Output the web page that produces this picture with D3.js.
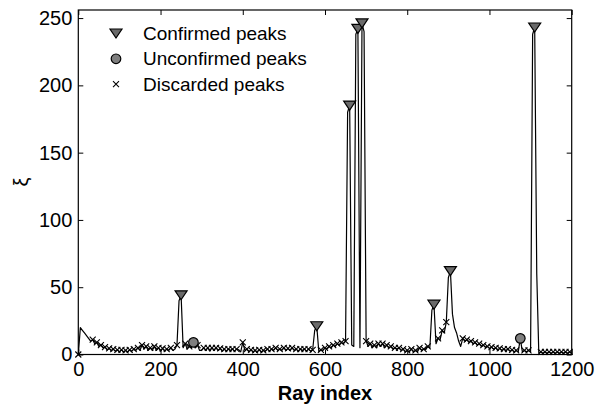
<!DOCTYPE html>
<html>
<head>
<meta charset="utf-8">
<script src="https://cdn.jsdelivr.net/npm/d3@7/dist/d3.min.js"></script>
<style>
  body { margin: 0; background: #fff; }
  svg { display: block; font-family: "Liberation Sans", Arial, Helvetica, sans-serif; }
  .tick text { font-size: 20px; fill: #000; }
  .tick line { stroke: #000; stroke-width: 1; }
</style>
</head>
<body>
<div class="chart"></div>
<script>
// xi value for every 5th ray (ray index = i * step)
const step = 5
const xi = [
  0, 20, 18, 16, 14, 12, 10, 11, 8, 9,
  6, 7, 5, 5.5, 3.5, 4.5, 3, 4, 2.5, 3.5,
  2, 3.5, 2, 3, 2, 3.5, 2.5, 4, 3, 5,
  3, 7, 4, 6, 3, 5, 3, 6, 3, 5,
  2.5, 4.5, 2.5, 4, 3, 5, 3, 4, 7, 40,
  44, 5, 8, 4, 6, 5, 9, 5, 7, 3,
  3, 5, 3, 5, 2.5, 5, 3, 5, 3, 4.5,
  2.5, 4, 2.5, 4, 3, 4, 2.5, 4, 3.5, 2,
  9, 3, 4, 2, 3.5, 2, 3, 2, 3.5, 2,
  3, 2.5, 4, 2.5, 4, 3, 5, 3, 4, 3,
  5, 3, 4.5, 3, 5, 3, 4, 2.5, 4, 3,
  4, 2.5, 4, 2.5, 3.5, 18, 21, 2, 3.5, 3,
  5, 4, 6, 5, 7, 6, 8, 7, 9, 8,
  10, 180, 185, 7, 6, 238, 242, 5, 246, 240,
  10, 6, 8, 5, 7, 5, 8, 6, 8, 5,
  7, 5, 6, 4, 5, 4, 5, 3, 4, 2,
  3, 2, 4, 2, 3, 2, 5, 3, 4, 3.5,
  6, 5, 33, 37, 8, 12, 11, 18, 16, 24,
  57, 62, 30, 20, 16, 10, 6, 12, 10, 11,
  9, 10, 8, 9, 7, 8, 6, 7, 5.5, 6,
  4.5, 5.5, 4, 5, 3.5, 4.5, 3, 4, 3, 4,
  2.5, 3.5, 2, 3, 2, 12, 2, 3, 2, 3,
  2, 238, 243, 60, 1, 2, 1, 2, 1, 2,
  1, 2, 1, 2, 1, 2, 1, 2, 1, 2,
  1
]

// ray indices of the detected peaks
const confirmedPeaks = [250, 580, 660, 680, 690, 865, 905, 1110]
const unconfirmedPeaks = [280, 1075]
const discardedPeaks = [0, 35, 45, 55, 65, 75, 85, 95, 105, 115, 125, 135, 145, 155, 165, 175, 185, 195,
  205, 215, 225, 240, 260, 270, 290, 305, 315, 325, 335, 345, 355, 365, 375, 385,
  400, 410, 420, 430, 440, 450, 460, 470, 480, 490, 500, 510, 520, 530, 540, 550, 560, 570,
  590, 600, 610, 620, 630, 640, 650, 700, 710, 720, 730, 740, 750, 760, 770, 780, 790,
  800, 810, 820, 830, 840, 850, 875, 885, 895, 935, 945, 955, 965, 975, 985, 995,
  1005, 1015, 1025, 1035, 1045, 1055, 1065, 1085, 1095, 1125, 1135, 1145, 1155, 1165, 1175, 1185, 1195]

const xTicks = [0, 200, 400, 600, 800, 1000, 1200]
const yTicks = [0, 50, 100, 150, 200, 250]
const legendLabels = ['Confirmed peaks', 'Unconfirmed peaks', 'Discarded peaks']

let width = 599
let height = 408
let plot = {left: 78.3, right: 571.7, top: 10, bottom: 354.5}

let svg = d3.select('.chart').append('svg')
.attr('width', width)
.attr('height', height)

let x = d3.scaleLinear().domain([0, 1200]).range([plot.left, plot.right])
let y = d3.scaleLinear().domain([0, 256]).range([plot.bottom, plot.top])

const valueAt = ray => xi[ray / step]

// marker shapes
const triPath = 'M-6,-4.5L6,-4.5L0,4.5Z'
const crossPath = 'M-3,-3L3,3M-3,3L3,-3'

// axes (ticks inside, box on all sides)
svg.append('g')
.attr('transform', 'translate(0,' + plot.bottom + ')')
.call(d3.axisBottom(x).tickValues(xTicks).tickFormat(d3.format('d')).tickSizeInner(-5).tickSizeOuter(0).tickPadding(7))
.call(g => g.select('.domain').remove())

svg.append('g')
.attr('transform', 'translate(0,' + plot.top + ')')
.call(d3.axisTop(x).tickValues(xTicks).tickSizeInner(-5).tickSizeOuter(0).tickFormat(''))
.call(g => g.select('.domain').remove())

svg.append('g')
.attr('transform', 'translate(' + plot.left + ',0)')
.call(d3.axisLeft(y).tickValues(yTicks).tickSizeInner(-5).tickSizeOuter(0).tickPadding(6))
.call(g => g.select('.domain').remove())

svg.append('g')
.attr('transform', 'translate(' + plot.right + ',0)')
.call(d3.axisRight(y).tickValues(yTicks).tickSizeInner(-5).tickSizeOuter(0).tickFormat(''))
.call(g => g.select('.domain').remove())

svg.selectAll('.tick text').attr('font-family', null)

// the xi curve
let line = d3.line()
.x((d, i) => x(i * step))
.y(d => y(d))

svg.append('path')
.datum(xi)
.attr('d', line)
.attr('fill', 'none')
.attr('stroke', '#000')
.attr('stroke-width', 1.2)
.attr('stroke-linejoin', 'round')

// discarded peaks
svg.append('g')
.selectAll('path')
.data(discardedPeaks)
.enter()
.append('path')
.attr('d', crossPath)
.attr('transform', d => 'translate(' + x(d) + ',' + y(valueAt(d)) + ')')
.attr('stroke', '#000')
.attr('stroke-width', 1.1)
.attr('fill', 'none')

// confirmed peaks
svg.append('g')
.selectAll('path')
.data(confirmedPeaks)
.enter()
.append('path')
.attr('d', triPath)
.attr('transform', d => 'translate(' + x(d) + ',' + y(valueAt(d)) + ')')
.attr('fill', '#6a6a6a')
.attr('stroke', '#000')
.attr('stroke-width', 1.2)

// unconfirmed peaks
svg.append('g')
.selectAll('circle')
.data(unconfirmedPeaks)
.enter()
.append('circle')
.attr('cx', d => x(d))
.attr('cy', d => y(valueAt(d)))
.attr('r', 4.8)
.attr('fill', '#7f7f7f')
.attr('stroke', '#000')
.attr('stroke-width', 1.2)

// frame
svg.append('rect')
.attr('x', plot.left)
.attr('y', plot.top)
.attr('width', plot.right - plot.left)
.attr('height', plot.bottom - plot.top)
.attr('fill', 'none')
.attr('stroke', '#000')
.attr('stroke-width', 1.2)

// legend
let legend = svg.append('g')
.attr('class', 'legend')

legendLabels.map((label, i) => {
	let row = legend.append('g')
	.attr('transform', 'translate(116,' + (33.5 + i * 25.3) + ')')

	if(i == 0){
		row.append('path')
		.attr('d', triPath)
		.attr('fill', '#6a6a6a')
		.attr('stroke', '#000')
		.attr('stroke-width', 1.2)
	}
	else if(i == 1){
		row.append('circle')
		.attr('r', 4.8)
		.attr('fill', '#7f7f7f')
		.attr('stroke', '#000')
		.attr('stroke-width', 1.2)
	}
	else{
		row.append('path')
		.attr('d', crossPath)
		.attr('stroke', '#000')
		.attr('stroke-width', 1.1)
	}

	row.append('text')
	.attr('x', 27)
	.attr('y', 6.5)
	.attr('font-size', 19)
	.text(label)
})

// axis labels
svg.append('text')
.attr('x', (plot.left + plot.right) / 2)
.attr('y', 400)
.attr('text-anchor', 'middle')
.attr('font-size', 20)
.attr('font-weight', 'bold')
.text('Ray index')

svg.append('text')
.attr('transform', 'translate(28,182) rotate(-90)')
.attr('text-anchor', 'middle')
.attr('font-size', 20)
.text('ξ')
</script>
</body>
</html>
